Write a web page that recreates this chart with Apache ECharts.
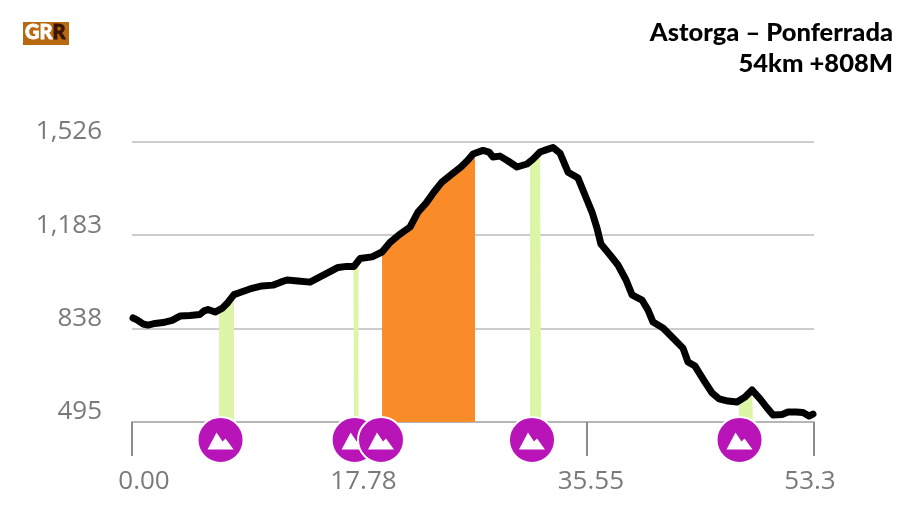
<!DOCTYPE html>
<html lang="en">

<head>
  <meta charset="UTF-8" />
  <title>Astorga - Ponferrada</title>
  <script src="https://cdn.jsdelivr.net/npm/echarts@6/dist/echarts.min.js"></script>
  <style>
    body,
    html {
      margin: 0;
      padding: 0;
      width: 100%;
      height: 100%;
      overflow: hidden;
      background: #fff;
    }

    #chart {
      width: 912px;
      height: 513px;
    }
  </style>
</head>

<body>
  <div id="chart"></div>
  <script>
    var titleLines = ['Astorga – Ponferrada', '54km +808M'];
    var yTicks = [495, 838, 1183, 1526];
    var xTicks = [0, 17.78, 35.55, 53.3];
    var xTickLabels = ['0.00', '17.78', '35.55', '53.3'];

    var distance = [0.08, 0.39, 0.86, 1.25, 1.80, 2.42, 3.13, 3.75, 4.53, 5.31, 5.63, 5.94, 6.49, 7.03, 7.42, 7.97,
      8.44, 9.22, 10.16, 11.02, 11.57, 12.11, 12.97, 13.91, 14.69, 15.48, 16.10, 16.80, 17.35, 17.82, 18.76, 19.54,
      20.16, 20.87, 21.73, 22.35, 22.98, 23.60, 24.23, 25.01, 25.71, 26.26, 26.65, 27.43, 27.90, 28.21, 28.76, 29.39,
      30.09, 30.87, 31.34, 31.89, 32.36, 32.90, 33.45, 34.08, 34.86, 35.40, 35.95, 36.34, 36.65, 37.36, 37.98, 38.61,
      39.08, 39.86, 40.33, 40.72, 41.50, 42.28, 43.06, 43.45, 44.00, 44.78, 45.33, 45.88, 46.58, 47.28, 47.91, 48.46,
      49.08, 49.63, 50.10, 50.80, 51.27, 51.89, 52.44, 52.91, 53.22];
    var elevation = [878, 871, 856, 852, 858, 861, 869, 885, 887, 891, 904, 909, 900, 913, 931, 964,
      972, 985, 996, 999, 1009, 1018, 1014, 1010, 1029, 1049, 1064, 1068, 1068, 1097, 1103, 1121,
      1156, 1184, 1213, 1268, 1301, 1342, 1379, 1408, 1434, 1460, 1482, 1495, 1489, 1471, 1474, 1456,
      1434, 1445, 1463, 1489, 1497, 1506, 1485, 1415, 1393, 1331, 1268, 1209, 1150, 1110, 1073, 1018,
      963, 944, 907, 863, 841, 804, 767, 716, 701, 642, 602, 580, 572, 569, 587, 613,
      580, 547, 521, 523, 532, 532, 530, 517, 524];

    // climbs: [from km, to km]
    var easyClimbs = [[6.80, 7.97], [17.31, 17.70], [31.11, 31.97], [47.44, 48.53]];
    var hardClimbs = [[19.54, 26.81]];
    var peakKm = [6.92, 17.40, 19.46, 31.26, 47.48];

    var profile = distance.map(function (d, i) {
      return [d, elevation[i]];
    });

    function elevationAt(km) {
      for (var i = 1; i < profile.length; i++) {
        if (km <= profile[i][0]) {
          var a = profile[i - 1], b = profile[i];
          return a[1] + (b[1] - a[1]) * (km - a[0]) / (b[0] - a[0]);
        }
      }
      return profile[profile.length - 1][1];
    }

    function climbSeries(range, color) {
      var pts = profile.filter(function (p) {
        return p[0] > range[0] && p[0] < range[1];
      });
      pts.unshift([range[0], elevationAt(range[0])]);
      pts.push([range[1], elevationAt(range[1])]);
      return {
        type: 'line',
        data: pts,
        symbol: 'none',
        z: 2,
        lineStyle: { width: 0 },
        areaStyle: { color: color, opacity: 1, origin: 'start' }
      };
    }

    var series = [];
    easyClimbs.forEach(function (r) { series.push(climbSeries(r, '#dcf5a6')); });
    hardClimbs.forEach(function (r) { series.push(climbSeries(r, '#f98c28')); });

    series.push({
      type: 'line',
      data: profile,
      symbol: 'none',
      z: 3,
      lineStyle: { color: '#000', width: 7, join: 'round', cap: 'round' }
    });

    // circle + icon per peak, so a later circle covers the earlier icon
    peakKm.forEach(function (k, i) {
      series.push({
        type: 'scatter',
        data: [[k, yTicks[0]]],
        symbol: 'circle',
        symbolSize: 46,
        symbolOffset: [0, 18],
        clip: false,
        silent: true,
        z: 5 + i,
        itemStyle: { color: '#b814b8', borderColor: '#fff', borderWidth: 2, opacity: 1 }
      });
      series.push({
        type: 'scatter',
        data: [[k, yTicks[0]]],
        symbol: 'path://M0 17L9 0L15 9L18 6L26 17Z',
        symbolSize: [26, 17],
        symbolOffset: [0, 19],
        clip: false,
        silent: true,
        z: 5 + i,
        itemStyle: { color: '#fff', opacity: 1 }
      });
    });

    var labelFont = { fontFamily: '"Open Sans", sans-serif', fontSize: 26, color: '#7a7a7a' };
    var xRich = {
      a: Object.assign({ padding: [0, 0, 0, 24] }, labelFont),
      b: Object.assign({ padding: [0, 0, 0, 8] }, labelFont),
      c: Object.assign({ padding: [0, 8, 0, 0] }, labelFont)
    };
    var titleFont = { fontFamily: 'Lato', fontWeight: 900, fontSize: 25.5, color: '#000' };

    var option = {
      backgroundColor: '#fff',
      animation: false,
      title: [{
        text: titleLines[0],
        right: 19,
        top: 20,
        padding: 0,
        textStyle: titleFont
      }, {
        text: titleLines[1],
        right: 19,
        top: 51,
        padding: 0,
        textStyle: titleFont
      }],
      graphic: [{
        type: 'rect',
        shape: { x: 23, y: 22, width: 46, height: 23 },
        style: { fill: '#b8690f' }
      }, {
        type: 'text',
        x: 25,
        y: 23,
        style: {
          text: '{g|GR}{r|R}',
          rich: {
            g: { fontFamily: 'Lato', fontWeight: 900, fontSize: 20, fill: '#fff', stroke: '#fff', lineWidth: 0.8 },
            r: { fontFamily: 'Lato', fontWeight: 900, fontSize: 20, fill: '#3a1505', stroke: '#3a1505', lineWidth: 0.8 }
          }
        }
      }],
      grid: { left: 132, right: 98, top: 142, bottom: 91 },
      xAxis: {
        type: 'value',
        min: 0,
        max: 53.3,
        axisLine: { lineStyle: { color: '#b5b5b5', width: 2 } },
        axisTick: {
          show: true,
          customValues: xTicks,
          length: 34,
          lineStyle: { color: '#8c8c8c', width: 2 }
        },
        splitLine: { show: false },
        axisLabel: {
          customValues: xTicks,
          margin: 47,
          fontFamily: '"Open Sans", sans-serif',
          fontSize: 26,
          color: '#7a7a7a',
          hideOverlap: false,
          formatter: function (v) {
            var i = xTicks.indexOf(v);
            var key = i === 0 ? 'a' : (i === 3 ? 'c' : 'b');
            return '{' + key + '|' + xTickLabels[i] + '}';
          },
          rich: xRich
        }
      },
      yAxis: {
        type: 'value',
        min: yTicks[0],
        max: yTicks[3],
        axisLine: { show: false },
        axisTick: { show: false, customValues: yTicks },
        splitLine: { show: true, lineStyle: { color: '#cccccc', width: 2 } },
        axisLabel: {
          customValues: yTicks,
          margin: 30,
          fontFamily: '"Open Sans", sans-serif',
          fontSize: 26,
          color: '#7a7a7a',
          verticalAlign: 'bottom',
          lineHeight: 20,
          formatter: function (v) {
            return v >= 1000 ? String(v).replace(/(\d)(\d{3})$/, '$1,$2') : String(v);
          }
        }
      },
      series: series
    };

    var myChart = echarts.init(document.getElementById('chart'), null, { renderer: 'canvas' });
    myChart.setOption(option);
  </script>
</body>

</html>
